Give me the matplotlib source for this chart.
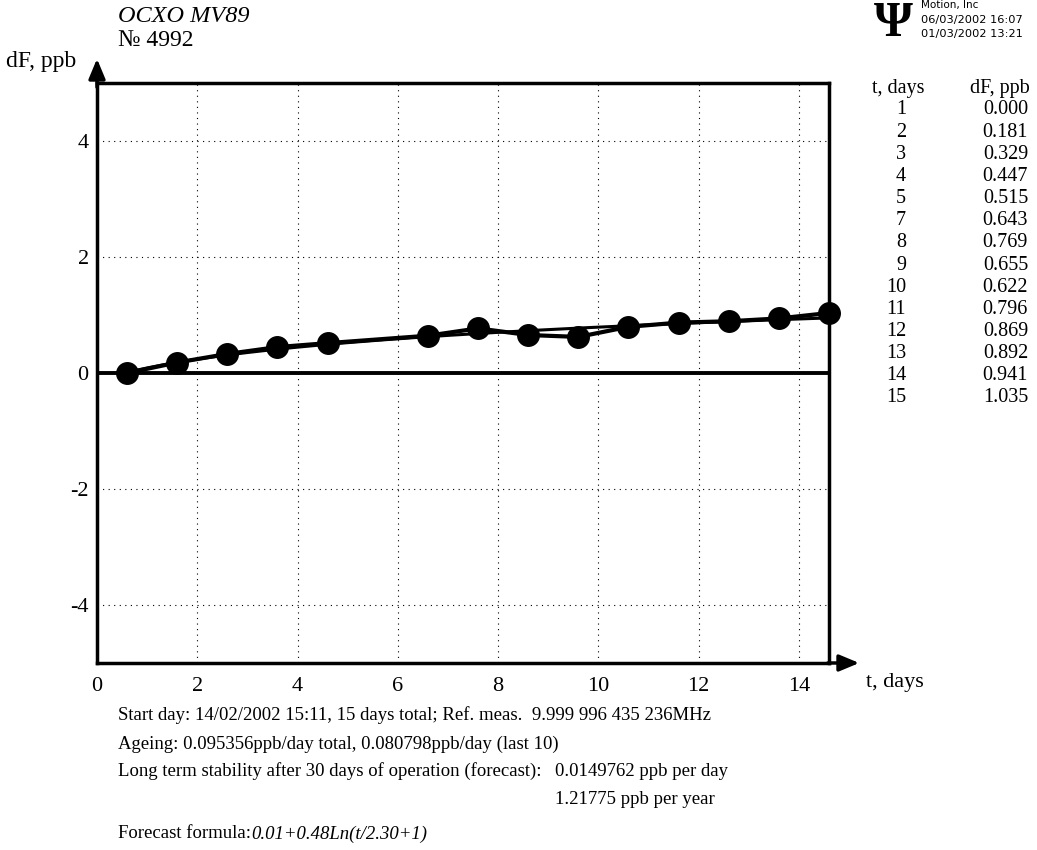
import matplotlib
matplotlib.use("Agg")
import matplotlib.pyplot as plt
import numpy as np

plt.rcParams['font.family'] = ['Liberation Serif', 'DejaVu Serif']

# table data
t_days = [1, 2, 3, 4, 5, 7, 8, 9, 10, 11, 12, 13, 14, 15]
dF_ppb = [0.000, 0.181, 0.329, 0.447, 0.515, 0.643, 0.769, 0.655, 0.622,
          0.796, 0.869, 0.892, 0.941, 1.035]
t_offset = 0.4  # points sit a bit left of the whole day

x_ticks = [0, 2, 4, 6, 8, 10, 12, 14]
y_ticks = [-4, -2, 0, 2, 4]

# forecast fit
fa, fb, fc = 0.01, 0.48, 2.30

fig = plt.figure(figsize=(10.37, 8.5), dpi=100)
ax = fig.add_axes([97/1037, 1 - 663/850, (829-97)/1037, (663-83)/850])

x = np.array(t_days) - t_offset
y = np.array(dF_ppb)

xs = np.linspace(x[0], x[-1], 200)
fit = fa + fb*np.log((xs - x[0])/fc + 1)
ax.plot(xs, fit, color='black', lw=2.2, clip_on=False)
ax.plot(x, y, color='black', lw=3, marker='o', ms=15.5, clip_on=False, zorder=5)

ax.axhline(0, color='black', lw=2.8)
ax.set_xlim(0, x[-1])
ax.set_ylim(-5, 5)

for v in x_ticks[1:]:
    ax.axvline(v, color='black', lw=0.8, ls=(0, (1, 4)))
for v in y_ticks:
    if v != 0:
        ax.axhline(v, color='black', lw=0.8, ls=(0, (1, 4)))

for s in ax.spines.values():
    s.set_linewidth(2.5)
ax.set_xticks(x_ticks)
ax.set_yticks(y_ticks)
ax.tick_params(length=0, labelsize=16, pad=10)
ax.tick_params(axis='y', pad=6)
ax.set_yticklabels([str(v) for v in y_ticks])

# arrows for the axes
ax.annotate('', xy=(97/1037, 1-56/850), xytext=(97/1037, 1-90/850), xycoords='figure fraction',
            arrowprops=dict(arrowstyle='-|>,head_width=0.5,head_length=1.2', color='black', lw=2.5))
ax.annotate('', xy=(862/1037, 1-663/850), xytext=(825/1037, 1-663/850), xycoords='figure fraction',
            arrowprops=dict(arrowstyle='-|>,head_width=0.5,head_length=1.2', color='black', lw=2.5))

fig.text(866/1037, 1-683/850, 't, days', fontsize=16, va='center')
fig.text(118/1037, 1-16/850, 'OCXO MV89', fontsize=17.5, style='italic', va='center')
fig.text(118/1037, 1-40/850, '№ 4992', fontsize=17, va='center')
fig.text(6/1037, 1-62/850, 'dF, ppb', fontsize=17, va='center')

# logo block
fig.text(893/1037, 1-24/850, 'Ψ', fontsize=36, fontweight='bold', ha='center', va='center')
fig.text(921/1037, 1-5/850, 'Motion, Inc', fontsize=7.5, va='center', family=['DejaVu Sans'])
fig.text(921/1037, 1-20/850, '06/03/2002 16:07', fontsize=8.2, va='center', family=['DejaVu Sans'])
fig.text(921/1037, 1-34/850, '01/03/2002 13:21', fontsize=8.2, va='center', family=['DejaVu Sans'])

# side table
fig.text(925/1037, 1-88/850, 't, days', fontsize=14.5, ha='right', va='center')
fig.text(1030/1037, 1-88/850, 'dF, ppb', fontsize=14.5, ha='right', va='center')
for i, (t, d) in enumerate(zip(t_days, dF_ppb)):
    yy = 1 - (110 + i*22.15)/850
    fig.text(906/1037, yy, str(t), fontsize=14.5, ha='right', va='center')
    fig.text(1028/1037, yy, '%.3f' % d, fontsize=14.5, ha='right', va='center')

# bottom notes
fs = 13.5
fig.text(118/1037, 1-715/850, 'Start day: 14/02/2002 15:11, 15 days total; Ref. meas.  9.999 996 435 236MHz', fontsize=fs, va='center')
fig.text(118/1037, 1-744/850, 'Ageing: 0.095356ppb/day total, 0.080798ppb/day (last 10)', fontsize=fs, va='center')
fig.text(118/1037, 1-771/850, 'Long term stability after 30 days of operation (forecast):', fontsize=fs, va='center')
fig.text(555/1037, 1-771/850, '0.0149762 ppb per day', fontsize=fs, va='center')
fig.text(555/1037, 1-800/850, '1.21775 ppb per year', fontsize=fs, va='center')
lbl = fig.text(118/1037, 1-834/850, 'Forecast formula:', fontsize=fs, va='center')
fig.canvas.draw()
bb = lbl.get_window_extent()
fig.text(bb.x1/1037, 1-834/850, '0.01+0.48Ln(t/2.30+1)', fontsize=fs, style='italic', va='center')

plt.savefig('out.png', dpi=100)
